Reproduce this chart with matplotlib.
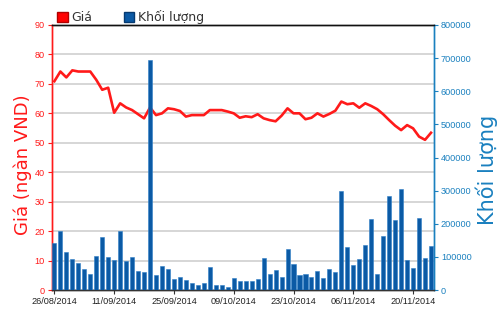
import matplotlib
matplotlib.use('Agg')
import matplotlib.pyplot as plt
from matplotlib.patches import Patch
import numpy as np


# trading days shown on the x axis (one tick every 10 sessions)
tick_labels = ['26/08/2014', '11/09/2014', '25/09/2014', '09/10/2014',
               '23/10/2014', '06/11/2014', '20/11/2014']

# closing price (ngan VND), one value per session
price = [70.9, 74.2, 72.2, 74.6, 74.2, 74.2, 74.2, 71.4, 68.0, 68.7,
         60.2, 63.4, 62.0, 61.1, 59.7, 58.3, 62.0, 59.4, 60.0, 61.7,
         61.4, 60.8, 58.9, 59.4, 59.4, 59.4, 61.1, 61.1, 61.1, 60.6,
         60.0, 58.5, 59.0, 58.7, 59.7, 58.3, 57.7, 57.3, 59.2, 61.7,
         60.0, 60.0, 58.0, 58.5, 60.0, 58.9, 59.8, 60.9, 64.0, 63.1,
         63.4, 61.9, 63.4, 62.5, 61.4, 59.7, 57.7, 55.8, 54.3, 56.0,
         54.9, 52.1, 51.0, 53.4]

# traded volume per session
volume = [141000, 179000, 116000, 94000, 81000, 62000, 48000, 104000, 159000, 99000,
          90000, 178000, 88000, 100000, 58000, 54000, 695000, 44000, 71000, 64000,
          32000, 39000, 29000, 20000, 16000, 20000, 68000, 16000, 16000, 10000,
          36000, 28000, 28000, 26000, 32000, 96000, 48000, 59000, 40000, 123000,
          78000, 45000, 48000, 39000, 58000, 36000, 64000, 55000, 299000, 129000,
          75000, 94000, 135000, 215000, 48000, 163000, 283000, 211000, 305000, 91000,
          65000, 218000, 97000, 132000]

RED = '#ff1a1a'
BLUE = '#1a80bf'
BAR = '#0b5aa5'

x = np.arange(len(price))

fig = plt.figure(figsize=(5, 3.12), dpi=100, facecolor='white')
ax = fig.add_axes([51.7 / 500, 22 / 312, 382.3 / 500, 265 / 312])
ax2 = ax.twinx()

# price line (left axis), under the bars
ax.plot(x, price, color=RED, linewidth=1.9, zorder=3)
ax.set_ylim(0, 90)
ax.set_yticks(range(0, 91, 10))
ax.grid(axis='y', color='#cfcfcf', linewidth=1.2)
ax.set_axisbelow(True)
ax.set_xlim(-0.45, len(price) - 0.5)
ax.set_xticks(range(0, len(price), 10))
ax.set_xticklabels(tick_labels, fontsize=6.6, family='Liberation Sans', color='#222222')
ax.tick_params(axis='x', length=3, width=0.8, pad=2, color='#333333')
ax.tick_params(axis='y', colors=RED, labelsize=6.6, length=3, width=0.8, pad=2)
for lbl in ax.get_yticklabels():
    lbl.set_family('Liberation Sans')

# volume bars (right axis)
ax2.bar(x, volume, width=0.68, color=BAR, edgecolor='#2f7fc8', linewidth=0.4, zorder=4)
ax2.set_ylim(0, 800000)
ax2.set_yticks(range(0, 800001, 100000))
ax2.tick_params(axis='y', colors=BLUE, labelsize=6.6, length=3, width=0.8, pad=2)
for lbl in ax2.get_yticklabels():
    lbl.set_family('Liberation Sans')

for a in (ax, ax2):
    a.spines['left'].set_color(RED)
    a.spines['right'].set_color(BLUE)
    a.spines['top'].set_color('#111111')
    a.spines['bottom'].set_color('#333333')
    for s in a.spines.values():
        s.set_linewidth(1.0)

fig.text(22.7 / 500, 1 - 165 / 312, 'Giá (ngàn VND)', rotation=90, color=RED,
         fontsize=13, ha='center', va='center')
fig.text(486.7 / 500, 1 - 170 / 312, 'Khối lượng', rotation=90, color=BLUE,
         fontsize=15, ha='center', va='center')

handles = [Patch(facecolor='#ff0000', edgecolor='#b00000', label='Giá'),
           Patch(facecolor='#0b5aa5', edgecolor='#063a70', label='Khối lượng')]
fig.legend(handles=handles, loc='center left', bbox_to_anchor=(57 / 500, 1 - 17 / 312),
           ncol=2, frameon=False, fontsize=9, handlelength=0.85, handleheight=0.85,
           handletextpad=0.3, columnspacing=2.5, borderaxespad=0, borderpad=0,
           labelcolor='#333333')

fig.savefig('out.png', dpi=100, facecolor='white')
